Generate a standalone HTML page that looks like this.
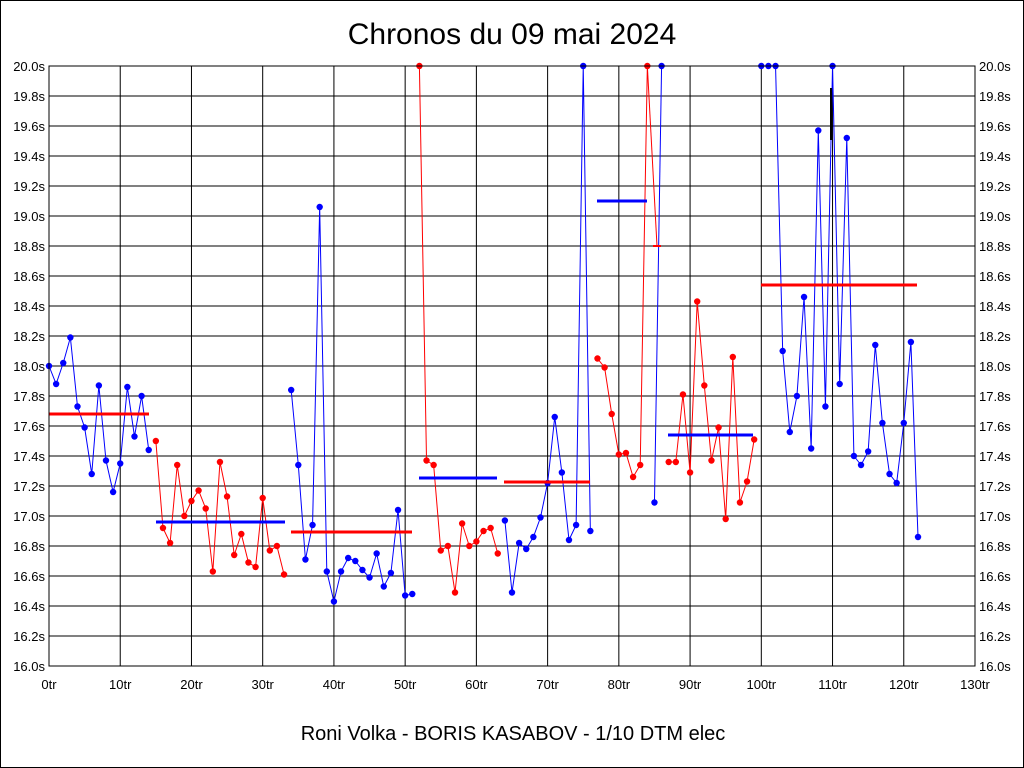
<!DOCTYPE html>
<html><head><meta charset="utf-8"><style>
body{margin:0;background:#fff}
svg{display:block;font-family:"Liberation Sans",sans-serif}
</style></head><body>
<svg id="c" width="1024" height="768" xmlns="http://www.w3.org/2000/svg"></svg>
<script>
const s=document.getElementById('c');
const X=i=>49+i*926/130, Y=v=>66+(20-v)*150;
let h='<rect x="0.5" y="0.5" width="1023" height="767" fill="#fff" stroke="#000"/>';
h+='<text x="512" y="44" font-size="30" text-anchor="middle">Chronos du 09 mai 2024</text>';
h+='<text x="513" y="740" font-size="20" text-anchor="middle">Roni Volka - BORIS KASABOV - 1/10 DTM elec</text>';
for(let k=0;k<=20;k++){const v=16+k*0.2,y=Y(v);
h+=`<line x1="49" x2="975" y1="${y}" y2="${y}" stroke="#000"/>`;
h+=`<text x="45" y="${y+5}" font-size="13" text-anchor="end">${v.toFixed(1)}s</text>`;
h+=`<text x="979" y="${y+5}" font-size="13">${v.toFixed(1)}s</text>`;}
for(let k=0;k<=13;k++){const x=X(k*10);
h+=`<line x1="${x}" x2="${x}" y1="66" y2="666" stroke="#000"/>`;
h+=`<text x="${x}" y="689" font-size="13" text-anchor="middle">${k*10}tr</text>`;}
const segs=[
['#00f',0,[18.0,17.88,18.02,18.19,17.73,17.59,17.28,17.87,17.37,17.16,17.35,17.86,17.53,17.80,17.44]],
['#f00',15,[17.50,16.92,16.82,17.34,17.00,17.10,17.17,17.05,16.63,17.36,17.13,16.74,16.88,16.69,16.66,17.12,16.77,16.80,16.61]],
['#00f',34,[17.84,17.34,16.71,16.94,19.06,16.63,16.43,16.63,16.72,16.70,16.64,16.59,16.75,16.53,16.62,17.04,16.47,16.48]],
['#f00',52,[20.0,17.37,17.34,16.77,16.80,16.49,16.95,16.80,16.83,16.90,16.92,16.75]],
['#00f',64,[16.97,16.49,16.82,16.78,16.86,16.99,17.22,17.66,17.29,16.84,16.94,20.0,16.90]],
['#f00',77,[18.05,17.99,17.68,17.41,17.42,17.26,17.34,20.0]],
['#00f',85,[17.09,20.0]],
['#f00',87,[17.36,17.36,17.81,17.29,18.43,17.87,17.37,17.59,16.98,18.06,17.09,17.23,17.51]],
['#00f',100,[20.0,20.0,20.0,18.10,17.56,17.80,18.46,17.45,19.57,17.73,20.0,17.88,19.52,17.40,17.34,17.43,18.14,17.62,17.28,17.22,17.62,18.16,16.86]]];
for(const [c,st,d] of segs){
h+=`<polyline fill="none" stroke="${c}" points="${d.map((v,i)=>X(st+i)+','+Y(v)).join(' ')}"/>`;
d.forEach((v,i)=>h+=`<circle cx="${X(st+i)}" cy="${Y(v)}" r="3.2" fill="${c}"/>`);}
h+=`<line x1="${X(84)}" y1="66" x2="657" y2="246" stroke="#f00"/><line x1="653" x2="661" y1="246" y2="246" stroke="#f00" stroke-width="2"/>`;
h+='<line x1="831" x2="831" y1="88" y2="140" stroke="#000" stroke-width="2"/>';
const av=[['#f00',49,149,414],['#00f',156,285,522],['#f00',291,412,532],['#00f',419,497,478],['#f00',504,590,482],['#00f',597,647,201],['#00f',668,753,435],['#f00',761,917,285]];
for(const [c,a,b,y] of av)h+=`<line x1="${a}" x2="${b}" y1="${y}" y2="${y}" stroke="${c}" stroke-width="3"/>`;
h+='<rect x="49" y="66" width="926" height="600" fill="none" stroke="#000"/>';
s.innerHTML=h;
</script>
</body></html>
